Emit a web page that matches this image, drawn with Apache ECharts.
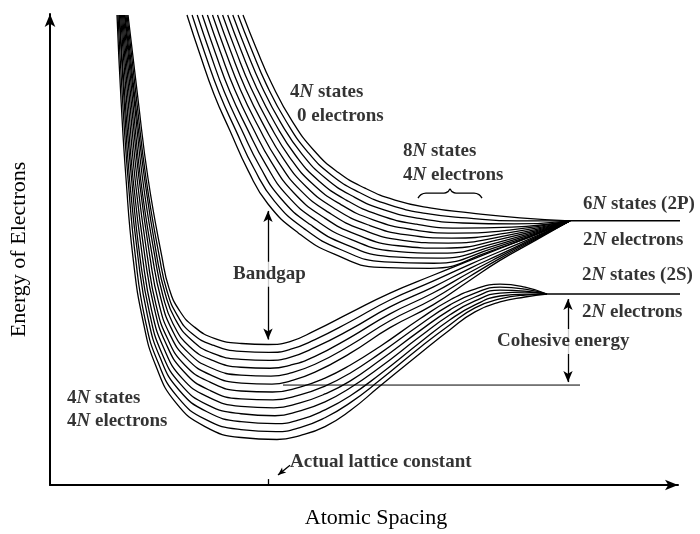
<!DOCTYPE html>
<html><head><meta charset="utf-8">
<script src="https://cdn.jsdelivr.net/npm/echarts@6/dist/echarts.min.js"></script>
<style>html,body{margin:0;padding:0;background:#fff}#c{width:700px;height:534px}</style>
</head><body><div id="c"></div>
<script>
// Energy (negative, arbitrary units) vs atomic spacing (arbitrary units).
// Lower band (4N states, 4N electrons): inner/top curve first
const vb0 = [[128,-15],[138,-100],[148,-180],[162,-260],[169,-291],[179,-313],[194,-330],[215,-342],[241.5,-347],[268,-348],[290,-345],[315,-334],[350,-316],[390,-296],[433,-278],[470,-263],[500,-251],[535,-237],[570,-223]];
const vb1 = [[127,-15],[136.5,-100],[146,-180],[159.5,-260],[167,-294],[177,-318],[192,-337],[214,-349],[241,-355],[269,-356],[290,-353],[315,-343],[350,-325],[390,-303],[433,-284],[470,-267],[500,-254],[535,-239],[570,-223]];
const vb2 = [[126,-15],[135,-100],[144.5,-180],[157,-260],[165,-296],[175,-322],[191,-343],[213,-357],[241,-363],[269.5,-364],[290,-361],[315,-351],[350,-333],[390,-310],[433,-290],[470,-271],[500,-257],[535,-240],[570,-223]];
const vb3 = [[125,-15],[134,-100],[142.5,-180],[155,-260],[163,-299],[173,-327],[189.5,-350],[212.5,-364],[241,-371],[270,-372],[290,-369],[315,-360],[350,-341],[390,-317],[433,-296],[470,-275],[500,-259],[535,-241],[570,-223]];
const vb4 = [[124.5,-15],[132.5,-100],[140.5,-180],[152.5,-260],[161,-302],[171.5,-332],[188,-356],[212,-372],[241,-379],[271,-380],[290,-377],[315,-368],[350,-349],[390,-324],[433,-302],[470,-279],[500,-261],[535,-242],[570,-223]];
const vb5 = [[123.5,-15],[131,-100],[139,-180],[150,-260],[158.5,-305],[169.5,-337],[186.5,-362],[211,-379],[241.5,-387],[272,-388],[290,-385],[315,-376],[350,-357],[390,-331],[433,-308],[470,-283],[500,-263],[535,-243],[570,-223]];
const vb6 = [[122.5,-15],[129.5,-100],[137,-180],[147.5,-260],[156,-308],[167.5,-342],[185,-369],[210,-386],[241,-395],[272.5,-396],[300,-391],[325,-382],[350,-369],[380,-350],[420,-322],[450,-303],[475,-292],[500,-287],[525,-290],[547,-297]];
const vb7 = [[121.5,-15],[128,-100],[135,-180],[145,-260],[154,-310],[165.5,-346],[183.5,-375],[209,-394],[241,-403],[273,-404],[300,-399],[325,-390],[350,-377],[380,-357],[420,-328],[450,-308],[475,-296],[500,-290],[525,-292],[547,-297]];
const vb8 = [[120.5,-15],[126.5,-100],[133,-180],[142.5,-260],[151.5,-313],[163.5,-351],[182,-382],[208,-401],[241,-410.5],[274,-412],[300,-407],[325,-398],[350,-385],[380,-364],[420,-334],[450,-313],[475,-300],[500,-293],[525,-294],[547,-297]];
const vb9 = [[119.5,-15],[125,-100],[131.5,-180],[140,-260],[149.5,-316],[161.5,-356],[180.5,-388],[207.5,-409],[241,-418],[275,-420],[300,-415],[325,-406],[350,-392],[380,-371],[420,-340],[450,-318],[475,-304],[500,-296],[525,-295],[547,-297]];
const vb10 = [[119,-15],[124,-100],[129.5,-180],[138,-260],[147.5,-319],[160,-361],[179,-394],[207,-416],[241,-426],[275.5,-428],[300,-424],[325,-414],[350,-400],[380,-378],[420,-346],[450,-323],[475,-308],[500,-299],[525,-297],[547,-297]];
const vb11 = [[118,-15],[122.5,-100],[128,-180],[135.5,-260],[145,-322],[158,-366],[177.5,-401],[206,-424],[241,-434],[276,-436],[300,-432],[325,-422],[350,-407],[380,-384],[420,-351],[450,-328],[475,-311],[500,-302],[525,-298],[547,-297]];
const vb12 = [[117,-15],[121,-100],[126,-180],[133,-260],[143,-324],[156,-370],[176,-407],[205,-431],[241,-442],[277,-444],[300,-440],[325,-431],[350,-415],[380,-390],[420,-357],[450,-333],[475,-315],[500,-305],[525,-300],[547,-297]];
// Upper band (4N states, 0 electrons): outer/top curve first
const cb0 = [[243,-15],[256,-48],[272,-85],[292,-122],[314,-152],[338,-174],[365,-190],[395,-202],[430,-210],[470,-215],[520,-220],[570,-223]];
const cb1 = [[238,-15],[251,-48.6],[266.7,-85.9],[286.4,-122.9],[308,-153.8],[331.6,-176.9],[358.9,-194.1],[389.5,-207],[425.5,-215.5],[466.4,-220.1],[517.3,-223.1],[570,-223]];
const cb2 = [[232.8,-15],[245.8,-49.3],[261.5,-86.8],[280.7,-123.8],[302,-155.6],[325.3,-179.8],[352.8,-198.2],[384.1,-212],[420.9,-220.9],[462.7,-225.2],[514.5,-226.2],[570,-223]];
const cb3 = [[227.7,-15],[240.7,-49.9],[256.2,-87.7],[275.1,-124.7],[296,-157.5],[318.9,-182.7],[346.7,-202.3],[378.6,-217],[416.4,-226.4],[459.1,-230.3],[511.8,-229.3],[570,-223]];
const cb4 = [[222.6,-15],[235.6,-50.5],[250.9,-88.6],[269.5,-125.6],[290,-159.3],[312.5,-185.6],[340.6,-206.4],[373.2,-222],[411.8,-231.8],[455.5,-235.4],[509.1,-232.4],[570,-223]];
const cb5 = [[217.5,-15],[230.5,-51.2],[245.6,-89.5],[263.8,-126.5],[284,-161.1],[306.2,-188.5],[334.5,-210.5],[367.7,-227],[407.3,-237.3],[451.8,-240.5],[506.4,-235.5],[570,-223]];
const cb6 = [[212.5,-15],[225.5,-51.8],[240.4,-90.5],[258.2,-127.5],[278,-162.9],[299.8,-191.5],[328.5,-214.5],[362.3,-232],[402.7,-242.7],[448.2,-245.5],[503.6,-238.5],[570,-223]];
const cb7 = [[207.4,-15],[220.4,-52.5],[235.1,-91.4],[252.5,-128.4],[272,-164.7],[293.5,-194.4],[322.4,-218.6],[356.8,-237],[398.2,-248.2],[444.5,-250.6],[500.9,-241.6],[570,-223]];
const cb8 = [[202.3,-15],[215.3,-53.1],[229.8,-92.3],[246.9,-129.3],[266,-166.5],[287.1,-197.3],[316.3,-222.7],[351.4,-242],[393.6,-253.6],[440.9,-255.7],[498.2,-244.7],[570,-223]];
const cb9 = [[197.2,-15],[210.2,-53.7],[224.5,-93.2],[241.3,-130.2],[260,-168.4],[280.7,-200.2],[310.2,-226.8],[345.9,-247],[389.1,-259.1],[437.3,-260.8],[495.5,-247.8],[570,-223]];
const cb10 = [[192.1,-15],[205.1,-54.4],[219.3,-94.1],[235.6,-131.1],[254,-170.2],[274.4,-203.1],[304.1,-230.9],[340.5,-252],[384.5,-264.5],[433.6,-265.9],[492.7,-250.9],[570,-223]];
const cb11 = [[187,-15],[200,-55],[214,-95],[230,-132],[248,-172],[268,-206],[298,-235],[335,-257],[380,-270],[430,-271],[490,-254],[570,-223]];
// Isolated-atom levels and reference line
const level2P = [[570,-223],[692,-223]];
const level2S = [[547,-297],[693,-297]];
const cohesiveRef = [[283,-389],[580,-389]];
const braceShape = [[418,-200],[421,-196.5],[426,-195],[444,-195],[448,-193.5],[450,-191],[452,-193.5],[456,-195],[474,-195],[479,-196.5],[482,-200]];
// Annotations: [x, energy, text]
const annotations = [
  [290,-93,'{n|4}{i|N}{n| states}'],
  [297,-117,'{n|0 electrons}'],
  [403,-153,'{n|8}{i|N}{n| states}'],
  [403,-177,'{n|4}{i|N}{n| electrons}'],
  [583,-206,'{n|6}{i|N}{n| states (2P)}'],
  [583,-242,'{n|2}{i|N}{n| electrons}'],
  [582,-278,'{n|2}{i|N}{n| states (2S)}'],
  [582,-315,'{n|2}{i|N}{n| electrons}'],
  [67,-402,'{n|4}{i|N}{n| states}'],
  [67,-425,'{n|4}{i|N}{n| electrons}'],
  [290,-467,'{n|Actual lattice constant}']
];
const boxedLabels = [
  [231,-277,'{n|Bandgap}'],
  [495,-345,'{n|Cohesive energy}']
];
const bandgapArrow = [[268,-213],[268,-343]];
const cohesiveArrow = [[568,-302],[568,-386]];
const latticeArrow = [[290,-470],[278,-480]];
const latticeTick = [[268,-484],[268,-490]];

const FONT = 'Liberation Serif';
const rich = {
  n: {fontFamily: FONT, fontSize: 19, fontWeight: 'bold', color: '#000'},
  i: {fontFamily: FONT, fontSize: 19, fontWeight: 'bold', color: '#000', fontStyle: 'italic'}
};
function curve(data, w) {
  return {type: 'line', data: data, smooth: 0.5, symbol: 'none', silent: true,
    lineStyle: {color: '#000', width: w || 1.3}, z: 2};
}
const series = [];
[vb0,vb1,vb2,vb3,vb4,vb5,vb6,vb7,vb8,vb9,vb10,vb11,vb12].forEach(d => series.push(curve(d)));
[cb0,cb1,cb2,cb3,cb4,cb5,cb6,cb7,cb8,cb9,cb10,cb11].forEach(d => series.push(curve(d)));
series.push({type:'line', data: level2P, symbol:'none', silent:true, lineStyle:{color:'#000', width:1.6}});
series.push({type:'line', data: level2S, symbol:'none', silent:true, lineStyle:{color:'#000', width:1.6}});
series.push({type:'line', data: cohesiveRef, symbol:'none', silent:true, lineStyle:{color:'#000', width:1}});
series.push({type:'line', data: braceShape, smooth: 0.4, symbol:'none', silent:true, lineStyle:{color:'#000', width:1.3}});
function arrowPair(p, startSym, endSym, size) {
  return [{coord: p[0], symbol: startSym, symbolSize: size}, {coord: p[1], symbol: endSym, symbolSize: size}];
}
series.push({
  type: 'scatter', symbolSize: 0, silent: true, z: 5,
  data: annotations.map(a => ({value: [a[0], a[1]], label: {show: true, position: 'right', distance: 0, formatter: a[2], rich: rich}})),
  markLine: {
    silent: true, animation: false, label: {show: false},
    lineStyle: {color: '#000', width: 1.3, type: 'solid'},
    emphasis: {disabled: true},
    data: [
      arrowPair(bandgapArrow, 'arrow', 'arrow', [7, 11]),
      arrowPair(cohesiveArrow, 'arrow', 'arrow', [7, 11]),
      arrowPair(latticeArrow, 'none', 'arrow', [5, 8]),
      arrowPair(latticeTick, 'none', 'none', [0, 0])
    ]
  }
});
series.push({
  type: 'scatter', symbolSize: 0, silent: true, z: 10,
  data: boxedLabels.map(a => ({value: [a[0], a[1]], label: {show: true, position: 'right', distance: 0, formatter: a[2], rich: rich, backgroundColor: '#fff', padding: [3, 2]}}))
});

const chart = echarts.init(document.getElementById('c'), null, {renderer: 'canvas'});
chart.setOption({
  animation: false,
  backgroundColor: '#fff',
  grid: {left: 50, right: 22, top: 14, bottom: 44, containLabel: false},
  xAxis: {
    type: 'value', min: 50, max: 678,
    name: 'Atomic Spacing', nameLocation: 'middle', nameGap: 22,
    nameTextStyle: {fontFamily: FONT, fontSize: 22, color: '#000', padding: [0, 0, 0, 24]},
    axisLine: {onZero: false, symbol: ['none', 'arrow'], symbolSize: [8, 13], lineStyle: {color: '#000', width: 2}},
    axisTick: {show: false}, axisLabel: {show: false}, splitLine: {show: false}
  },
  yAxis: {
    type: 'value', min: -490, max: -14,
    name: 'Energy of Electrons', nameLocation: 'middle', nameGap: 20, nameRotate: 90,
    nameTextStyle: {fontFamily: FONT, fontSize: 22, color: '#000'},
    axisLine: {onZero: false, symbol: ['none', 'arrow'], symbolSize: [8, 13], lineStyle: {color: '#000', width: 2}},
    axisTick: {show: false}, axisLabel: {show: false}, splitLine: {show: false}
  },
  series: series
});
</script></body></html>
